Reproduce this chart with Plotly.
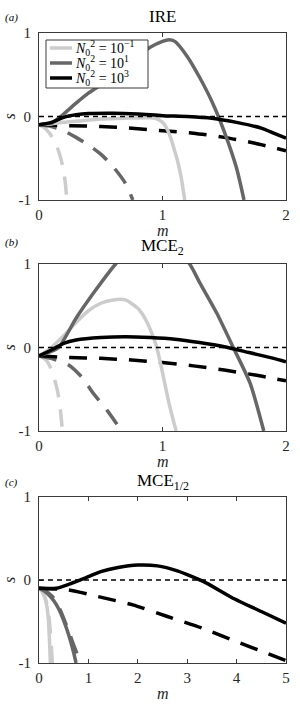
import plotly.graph_objects as go

# ---------------- data ----------------
# Panel (a): IRE
a_light_solid_m = [0, 0.1, 0.2, 0.35, 0.5, 0.7, 0.9, 0.96, 1.0, 1.03, 1.06, 1.09, 1.12, 1.15, 1.18]
a_light_solid_s = [-0.1, -0.09, -0.07, -0.05, -0.03, -0.02, -0.015, -0.03, -0.07, -0.13, -0.23, -0.37, -0.52, -0.72, -1.0]
a_light_dash_m = [0, 0.04, 0.08, 0.12, 0.15, 0.18, 0.2, 0.215, 0.225]
a_light_dash_s = [-0.1, -0.13, -0.19, -0.28, -0.38, -0.52, -0.66, -0.82, -1.0]
a_mid_solid_m = [0, 0.1, 0.15, 0.2, 0.3, 0.4, 0.5, 0.6, 0.7, 0.8, 0.9, 1.0, 1.05, 1.1, 1.2, 1.3, 1.4, 1.5, 1.6, 1.66]
a_mid_solid_s = [-0.1, -0.08, -0.03, 0.03, 0.16, 0.28, 0.38, 0.5, 0.62, 0.73, 0.83, 0.9, 0.92, 0.9, 0.72, 0.47, 0.18, -0.18, -0.62, -1.0]
a_mid_dash_m = [0, 0.1, 0.2, 0.3, 0.4, 0.5, 0.6, 0.7, 0.76]
a_mid_dash_s = [-0.1, -0.12, -0.17, -0.25, -0.34, -0.45, -0.6, -0.8, -1.0]
a_black_solid_m = [0, 0.1, 0.2, 0.3, 0.4, 0.6, 0.8, 1.0, 1.2, 1.4, 1.6, 1.8, 1.9, 2.0]
a_black_solid_s = [-0.1, -0.07, -0.01, 0.02, 0.035, 0.04, 0.03, 0.01, 0.0, -0.02, -0.07, -0.14, -0.2, -0.26]
a_black_dash_m = [0, 0.25, 0.5, 0.75, 1.0, 1.25, 1.5, 1.75, 2.0]
a_black_dash_s = [-0.1, -0.11, -0.12, -0.14, -0.17, -0.2, -0.25, -0.32, -0.41]

# Panel (b): MCE_2
b_light_solid_m = [0, 0.1, 0.2, 0.3, 0.4, 0.5, 0.6, 0.7, 0.8, 0.85, 0.9, 0.95, 1.0, 1.05, 1.11]
b_light_solid_s = [-0.1, 0.0, 0.14, 0.3, 0.44, 0.53, 0.57, 0.57, 0.47, 0.37, 0.22, 0.02, -0.3, -0.65, -1.0]
b_light_dash_m = [0, 0.05, 0.09, 0.12, 0.15, 0.17, 0.18, 0.19]
b_light_dash_s = [-0.1, -0.14, -0.23, -0.35, -0.52, -0.7, -0.85, -1.0]
b_mid_solid_m = [0, 0.08, 0.16, 0.3, 0.45, 0.62, 0.75, 0.9, 1.05, 1.22, 1.3, 1.44, 1.57, 1.71, 1.82]
b_mid_solid_s = [-0.1, -0.06, 0.0, 0.35, 0.67, 1.0, 1.2, 1.3, 1.25, 1.0, 0.78, 0.41, 0.01, -0.43, -1.0]
b_mid_dash_m = [0, 0.1, 0.24, 0.35, 0.44, 0.55, 0.67]
b_mid_dash_s = [-0.1, -0.13, -0.21, -0.36, -0.55, -0.75, -1.0]
b_black_solid_m = [0, 0.1, 0.2, 0.3, 0.5, 0.7, 0.9, 1.1, 1.3, 1.5, 1.7, 1.9, 2.0]
b_black_solid_s = [-0.1, -0.03, 0.05, 0.09, 0.12, 0.13, 0.12, 0.1, 0.06, 0.01, -0.06, -0.13, -0.17]
b_black_dash_m = [0, 0.25, 0.5, 0.75, 1.0, 1.25, 1.5, 1.75, 2.0]
b_black_dash_s = [-0.1, -0.12, -0.13, -0.15, -0.18, -0.22, -0.27, -0.33, -0.4]

# Panel (c): MCE_1/2
c_light_solid_m = [0, 0.06, 0.12, 0.16, 0.19, 0.21, 0.23]
c_light_solid_s = [-0.1, -0.14, -0.22, -0.32, -0.48, -0.7, -1.0]
c_light_dash_m = [0, 0.07, 0.14, 0.19, 0.22, 0.25, 0.27]
c_light_dash_s = [-0.1, -0.14, -0.24, -0.38, -0.56, -0.8, -1.0]
c_mid_solid_m = [0, 0.1, 0.2, 0.3, 0.4, 0.5, 0.6, 0.7, 0.75]
c_mid_solid_s = [-0.1, -0.13, -0.18, -0.25, -0.35, -0.49, -0.66, -0.87, -1.0]
c_mid_dash_m = [0, 0.1, 0.2, 0.3, 0.43, 0.59, 0.7, 0.8, 0.86]
c_mid_dash_s = [-0.1, -0.12, -0.16, -0.22, -0.36, -0.6, -0.78, -0.93, -1.0]
c_black_solid_m = [0, 0.35, 0.7, 1.0, 1.25, 1.6, 2.0, 2.4, 2.8, 3.1, 3.4, 3.9, 4.5, 5.0]
c_black_solid_s = [-0.1, -0.1, -0.03, 0.04, 0.1, 0.15, 0.18, 0.17, 0.11, 0.04, -0.04, -0.21, -0.38, -0.52]
c_black_dash_m = [0, 0.6, 1.2, 1.9, 2.6, 3.3, 3.9, 4.6, 5.0]
c_black_dash_s = [-0.1, -0.12, -0.2, -0.3, -0.44, -0.58, -0.72, -0.88, -0.97]

legend_labels = ["<i>N</i><sub>0</sub><sup>2</sup> = 10<sup>−1</sup>",
                 "<i>N</i><sub>0</sub><sup>2</sup> = 10<sup>1</sup>",
                 "<i>N</i><sub>0</sub><sup>2</sup> = 10<sup>3</sup>"]
panel_titles = ["IRE", "MCE<sub>2</sub>", "MCE<sub>1/2</sub>"]
panel_tags = ["(a)", "(b)", "(c)"]
x_ranges = [[0, 2], [0, 2], [0, 5]]
x_ticks = [[0, 1, 2], [0, 1, 2], [0, 1, 2, 3, 4, 5]]
y_ticks = [-1, 0, 1]
y_ticktext = ["-1", "0", "1"]

# ---------------- styling ----------------
FONT = "Liberation Serif"
COL = ["#cccccc", "#666666", "#000000"]
LW = 3.5
AXC = "#3a3a3a"
W, H = 300, 710

panels = [
    [(a_light_solid_m, a_light_solid_s, a_light_dash_m, a_light_dash_s),
     (a_mid_solid_m, a_mid_solid_s, a_mid_dash_m, a_mid_dash_s),
     (a_black_solid_m, a_black_solid_s, a_black_dash_m, a_black_dash_s)],
    [(b_light_solid_m, b_light_solid_s, b_light_dash_m, b_light_dash_s),
     (b_mid_solid_m, b_mid_solid_s, b_mid_dash_m, b_mid_dash_s),
     (b_black_solid_m, b_black_solid_s, b_black_dash_m, b_black_dash_s)],
    [(c_light_solid_m, c_light_solid_s, c_light_dash_m, c_light_dash_s),
     (c_mid_solid_m, c_mid_solid_s, c_mid_dash_m, c_mid_dash_s),
     (c_black_solid_m, c_black_solid_s, c_black_dash_m, c_black_dash_s)],
]

# plot-area pixel boxes (top, bottom) for each panel, and title centres
boxes = [(33, 200), (264, 431), (497, 663)]
title_y = [17, 247, 482]
tag_y = [18, 242, 482]
x_left, x_right = 39, 286

def px(x):
    return x / W

def py(y):
    return 1 - y / H

fig = go.Figure()
layout = dict(
    width=W, height=H, margin=dict(l=0, r=0, t=0, b=0, autoexpand=False),
    paper_bgcolor="white", plot_bgcolor="white",
    font=dict(family=FONT, size=15, color="#262626"),
    showlegend=False,
)
shapes = []
annotations = []

for p, series in enumerate(panels):
    xa = "x" if p == 0 else f"x{p+1}"
    ya = "y" if p == 0 else f"y{p+1}"
    # dashed curves first, then solid curves
    for k, (ms, ss, md, sd) in enumerate(series):
        fig.add_trace(go.Scatter(x=md, y=sd, mode="lines", xaxis=xa, yaxis=ya,
                                 line=dict(color=COL[k], width=LW, dash="18px,12px", shape="spline", smoothing=0.6),
                                 showlegend=False, hoverinfo="skip"))
    for k, (ms, ss, md, sd) in enumerate(series):
        fig.add_trace(go.Scatter(x=ms, y=ss, mode="lines", xaxis=xa, yaxis=ya,
                                 line=dict(color=COL[k], width=LW, shape="spline", smoothing=0.6),
                                 name=legend_labels[k], showlegend=False, hoverinfo="skip"))
    top, bot = boxes[p]
    axcommon = dict(showline=True, mirror="ticks", linecolor=AXC, linewidth=1,
                    ticks="inside", ticklen=4, tickcolor=AXC, showgrid=False, zeroline=False,
                    automargin=False,
                    tickfont=dict(family=FONT, size=15, color="#262626"))
    layout["xaxis" if p == 0 else f"xaxis{p+1}"] = dict(
        axcommon, domain=[px(x_left), px(x_right)], range=x_ranges[p],
        tickvals=x_ticks[p], anchor=ya, ticklabelstandoff=1)
    layout["yaxis" if p == 0 else f"yaxis{p+1}"] = dict(
        axcommon, domain=[py(bot), py(top)], range=[-1, 1],
        tickvals=y_ticks, ticktext=y_ticktext, anchor=xa, ticklabelstandoff=4)
    # zero reference line
    shapes.append(dict(type="line", xref=f"{xa} domain", yref=ya, x0=0, x1=1, y0=0, y1=0,
                       line=dict(color="black", width=1.3, dash="5px,4px")))
    xc = px((x_left + x_right) / 2)
    annotations.append(dict(text=panel_titles[p], x=xc, y=py(title_y[p]), xref="paper", yref="paper",
                            showarrow=False, font=dict(family=FONT, size=17, color="#000"),
                            xanchor="center", yanchor="middle"))
    annotations.append(dict(text="<i>" + panel_tags[p] + "</i>", x=px(11), y=py(tag_y[p]),
                            xref="paper", yref="paper", showarrow=False,
                            font=dict(family=FONT, size=11, color="#000"),
                            xanchor="center", yanchor="middle"))
    annotations.append(dict(text="<i>m</i>", x=xc, y=py(bot + 30), xref="paper", yref="paper",
                            showarrow=False, font=dict(family=FONT, size=16, color="#262626"),
                            xanchor="center", yanchor="middle"))
    annotations.append(dict(text="<i>s</i>", x=px(9), y=py((top + bot) / 2), xref="paper", yref="paper",
                            showarrow=False, textangle=-90, font=dict(family=FONT, size=16, color="#262626"),
                            xanchor="center", yanchor="middle"))

# legend box (panel a), drawn as a framed key
shapes.append(dict(type="rect", xref="paper", yref="paper", x0=px(46), x1=px(148), y0=py(88), y1=py(40),
                   fillcolor="white", line=dict(color=AXC, width=1), layer="above"))
for k in range(3):
    yk = 48 + 15 * k
    shapes.append(dict(type="line", xref="paper", yref="paper", x0=px(50), x1=px(72), y0=py(yk), y1=py(yk),
                       line=dict(color=COL[k], width=LW), layer="above"))
    annotations.append(dict(text=legend_labels[k], x=px(73), y=py(yk), xref="paper", yref="paper",
                            showarrow=False, font=dict(family=FONT, size=14, color="#000"),
                            xanchor="left", yanchor="middle"))

layout["shapes"] = shapes
layout["annotations"] = annotations
fig.update_layout(**layout)
fig.write_html("out.html", config={"displayModeBar": False},
               post_script="document.body.style.margin='0';")
